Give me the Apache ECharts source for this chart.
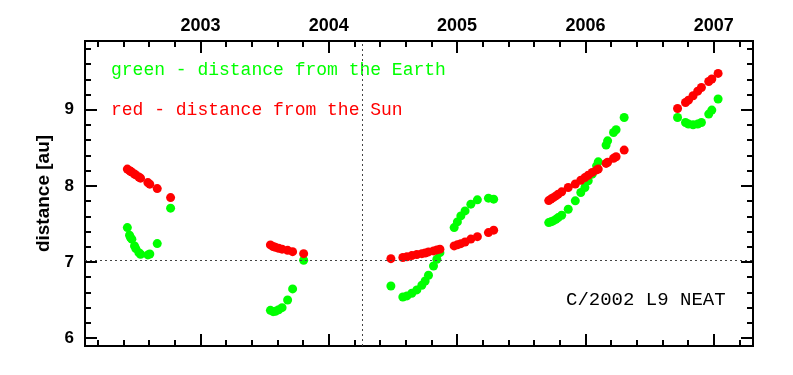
<!DOCTYPE html>
<html>
<head>
<meta charset="utf-8">
<script src="https://cdn.jsdelivr.net/npm/echarts@6/dist/echarts.min.js"></script>
<style>
  html, body { margin: 0; padding: 0; background: #fff; }
  #chart { width: 793px; height: 375px; }
</style>
</head>
<body>
<div id="chart"></div>
<script>
// observation epochs (decimal year)
const dates = [
  2002.430, 2002.447, 2002.455, 2002.465, 2002.486, 2002.496, 2002.520, 2002.533, 2002.590, 2002.605, 2002.663, 2002.767,
  2003.545, 2003.566, 2003.584, 2003.609, 2003.636, 2003.679, 2003.718, 2003.804,
  2004.484, 2004.577, 2004.609, 2004.647, 2004.686, 2004.725, 2004.751, 2004.777, 2004.816, 2004.842, 2004.866,
  2004.977, 2005.002, 2005.029, 2005.062, 2005.107, 2005.158, 2005.244, 2005.285,
  2005.714, 2005.731, 2005.749, 2005.770, 2005.788, 2005.815, 2005.866, 2005.921, 2005.964, 2005.996, 2006.022,
  2006.053, 2006.087, 2006.100, 2006.161, 2006.173, 2006.219, 2006.239, 2006.302,
  2006.718, 2006.780, 2006.803, 2006.839, 2006.875, 2006.904, 2006.961, 2006.985, 2007.034
];
// distance from the Earth [au]
const earthDist = [
  7.451, 7.351, 7.320, 7.299, 7.211, 7.175, 7.122, 7.101, 7.092, 7.105, 7.241, 7.707,
  6.364, 6.346, 6.351, 6.372, 6.399, 6.500, 6.645, 7.022,
  6.684, 6.539, 6.553, 6.588, 6.632, 6.693, 6.750, 6.825, 6.947, 7.036, 7.122,
  7.451, 7.526, 7.605, 7.671, 7.759, 7.816, 7.838, 7.825,
  7.517, 7.527, 7.539, 7.560, 7.583, 7.614, 7.693, 7.803, 7.912, 7.978, 8.066,
  8.154, 8.263, 8.316, 8.536, 8.592, 8.701, 8.737, 8.899,
  8.899, 8.833, 8.812, 8.803, 8.812, 8.833, 8.943, 8.996, 9.141
];
// distance from the Sun [au]
const sunDist = [
  8.220, 8.200, 8.191, 8.180, 8.155, 8.144, 8.116, 8.101, 8.043, 8.022, 7.964, 7.846,
  7.224, 7.203, 7.192, 7.180, 7.168, 7.152, 7.135, 7.109,
  7.043, 7.058, 7.068, 7.083, 7.097, 7.109, 7.118, 7.132, 7.145, 7.158, 7.168,
  7.211, 7.225, 7.240, 7.262, 7.300, 7.332, 7.386, 7.418,
  7.806, 7.826, 7.845, 7.868, 7.891, 7.921, 7.978, 8.024, 8.074, 8.109, 8.139,
  8.177, 8.210, 8.220, 8.295, 8.310, 8.362, 8.382, 8.470,
  9.017, 9.096, 9.126, 9.184, 9.245, 9.293, 9.372, 9.404, 9.478
];

const yearTicks = [2003, 2004, 2005, 2006, 2007];
const distTicks = [6, 7, 8, 9];
const perihelionDate = 2004.26;
const perihelionDist = 7.02;

const xMin = 2002.1, xMax = 2007.306;
const yMin = 5.895, yMax = 9.904;

// minor ticks every 0.2
let yearMinor = [];
for (let i = 0; i <= 26; i++) {
  let v = Math.round((2002.2 + i * 0.2) * 10) / 10;
  if (v < xMax) yearMinor.push(v);
}
let distMinor = [];
for (let i = 0; i <= 19; i++) {
  let v = Math.round((6.0 + i * 0.2) * 10) / 10;
  if (v < yMax) distMinor.push(v);
}

const chart = echarts.init(document.getElementById('chart'));

function xAx(pos, ticks, len, labels) {
  return {
    type: 'value', position: pos, min: xMin, max: xMax,
    axisLine: { show: true, onZero: false, lineStyle: { color: '#000', width: 2 } },
    axisTick: { show: true, inside: true, length: len, customValues: ticks, lineStyle: { color: '#000', width: 2 } },
    axisLabel: {
      show: labels, customValues: ticks, margin: 6,
      formatter: v => String(v),
      color: '#000', fontSize: 18, fontWeight: 'bold', fontFamily: 'Liberation Sans'
    },
    splitLine: { show: false }
  };
}
function yAx(pos, ticks, len, labels) {
  let ax = {
    type: 'value', position: pos, min: yMin, max: yMax,
    axisLine: { show: true, onZero: false, lineStyle: { color: '#000', width: 2 } },
    axisTick: { show: true, inside: true, length: len, customValues: ticks, lineStyle: { color: '#000', width: 2 } },
    axisLabel: {
      show: labels, customValues: ticks, margin: 11,
      formatter: v => String(v),
      color: '#000', fontSize: 17, fontWeight: 'bold', fontFamily: 'Liberation Sans'
    },
    splitLine: { show: false }
  };
  if (labels) {
    ax.name = 'distance [au]';
    ax.nameLocation = 'middle';
    ax.nameGap = 32;
    ax.nameTextStyle = { color: '#000', fontSize: 19, fontWeight: 'bold', fontFamily: 'Liberation Sans' };
  }
  return ax;
}

const monoFont = '18px "Liberation Mono"';

let option = {
  backgroundColor: '#fff',
  animation: false,
  grid: { left: 85, right: 40, top: 41, bottom: 29 },
  xAxis: [
    xAx('bottom', yearTicks, 12, false),
    xAx('bottom', yearMinor, 6, false),
    xAx('top', yearTicks, 12, true),
    xAx('top', yearMinor, 6, false)
  ],
  yAxis: [
    yAx('left', distTicks, 12, true),
    yAx('left', distMinor, 6, false),
    yAx('right', distTicks, 12, false),
    yAx('right', distMinor, 6, false)
  ],
  graphic: [
    { type: 'text', left: 111, top: 61, style: { text: 'green - distance from the Earth', fill: '#00ff00', font: monoFont } },
    { type: 'text', left: 111, top: 101, style: { text: 'red - distance from the Sun', fill: '#ff0000', font: monoFont } },
    { type: 'text', left: 566, top: 290, style: { text: 'C/2002 L9 NEAT', fill: '#000', font: '19px "Liberation Mono"' } }
  ],
  series: [
    {
      name: 'Earth', type: 'scatter', xAxisIndex: 0, yAxisIndex: 0,
      symbolSize: 9,
      itemStyle: { color: '#00ff00', opacity: 1 },
      data: dates.map((d, i) => [d, earthDist[i]]),
      markLine: {
        silent: true, symbol: 'none', label: { show: false },
        lineStyle: { color: '#444', width: 1, type: [2, 3] },
        data: [{ xAxis: perihelionDate }, { yAxis: perihelionDist }]
      },
      z: 2
    },
    {
      name: 'Sun', type: 'scatter', xAxisIndex: 0, yAxisIndex: 0,
      symbolSize: 9,
      itemStyle: { color: '#ff0000', opacity: 1 },
      data: dates.map((d, i) => [d, sunDist[i]]),
      z: 3
    }
  ]
};

chart.setOption(option);
</script>
</body>
</html>
